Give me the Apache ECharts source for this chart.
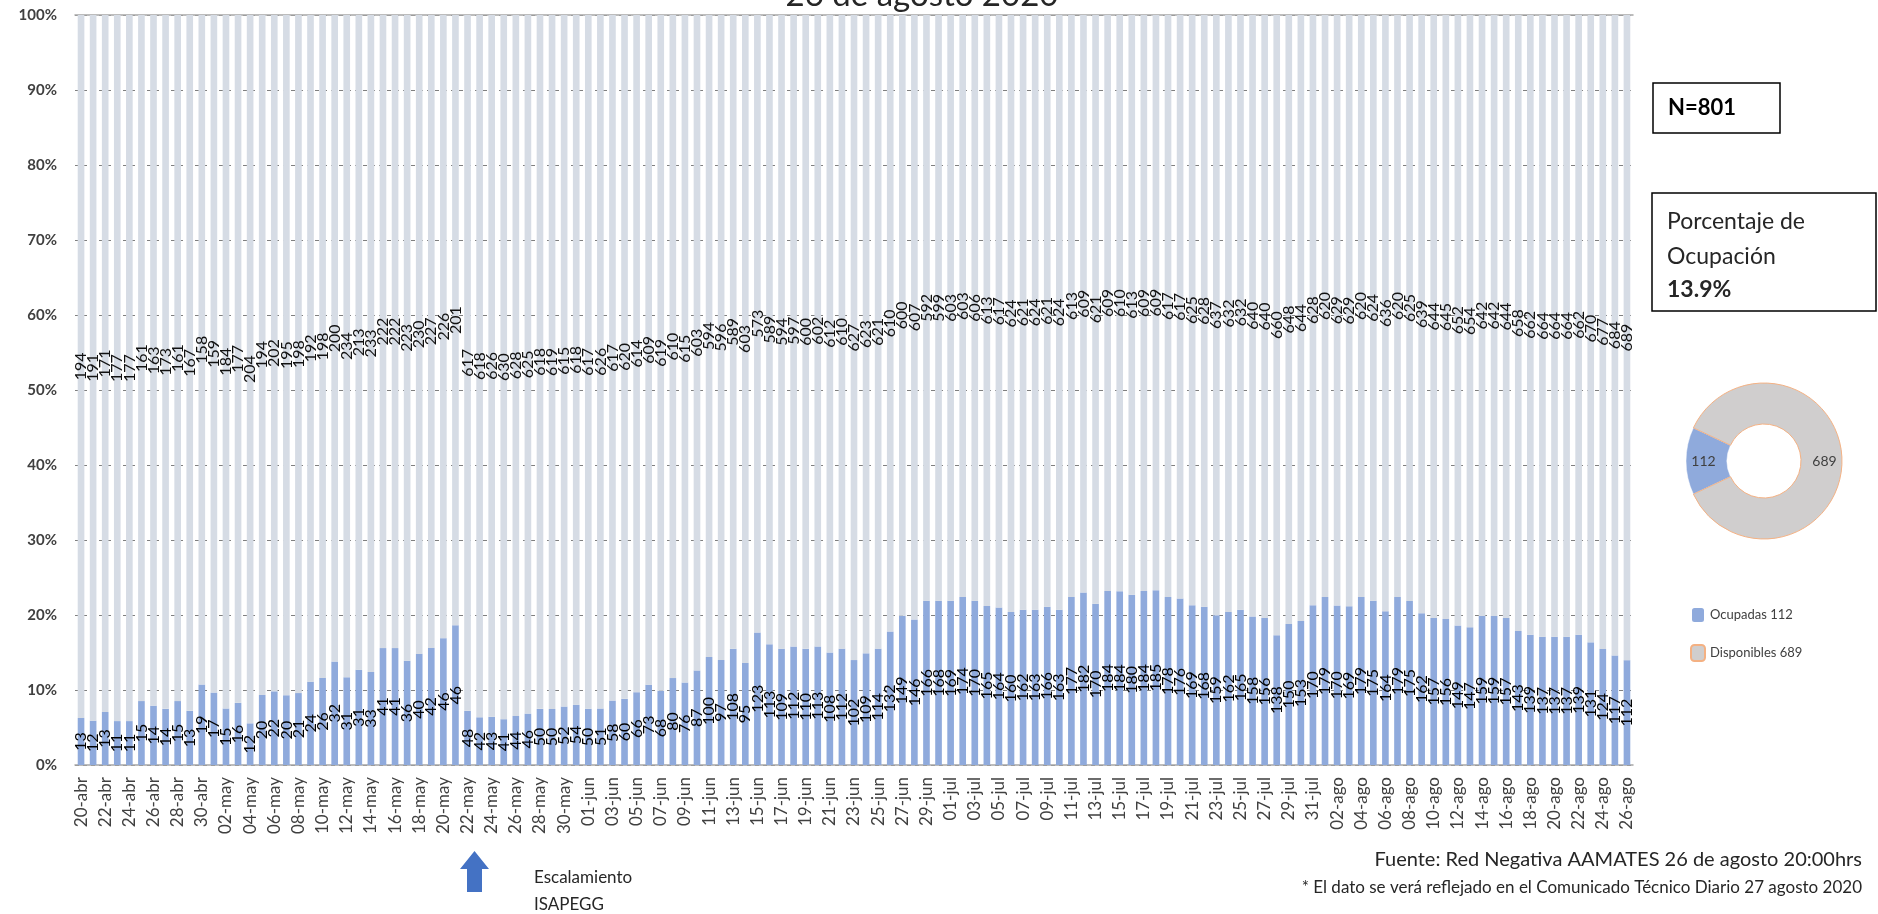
<!DOCTYPE html>
<html>
<head>
<meta charset="utf-8">
<script src="https://cdn.jsdelivr.net/npm/echarts@6/dist/echarts.min.js"></script>
<style>
  html, body { margin: 0; padding: 0; background: #ffffff; }
  #chart { width: 1878px; height: 914px; }
</style>
</head>
<body>
<div id="chart"></div>
<script>
// Daily dates of the occupancy series
const fechas = [
  '20-abr','21-abr','22-abr','23-abr','24-abr','25-abr','26-abr','27-abr','28-abr','29-abr','30-abr',
  '01-may','02-may','03-may','04-may','05-may','06-may','07-may','08-may','09-may','10-may',
  '11-may','12-may','13-may','14-may','15-may','16-may','17-may','18-may','19-may','20-may',
  '21-may','22-may','23-may','24-may','25-may','26-may','27-may','28-may','29-may','30-may','31-may',
  '01-jun','02-jun','03-jun','04-jun','05-jun','06-jun','07-jun','08-jun','09-jun','10-jun',
  '11-jun','12-jun','13-jun','14-jun','15-jun','16-jun','17-jun','18-jun','19-jun','20-jun',
  '21-jun','22-jun','23-jun','24-jun','25-jun','26-jun','27-jun','28-jun','29-jun','30-jun',
  '01-jul','02-jul','03-jul','04-jul','05-jul','06-jul','07-jul','08-jul','09-jul','10-jul',
  '11-jul','12-jul','13-jul','14-jul','15-jul','16-jul','17-jul','18-jul','19-jul','20-jul',
  '21-jul','22-jul','23-jul','24-jul','25-jul','26-jul','27-jul','28-jul','29-jul','30-jul','31-jul',
  '01-ago','02-ago','03-ago','04-ago','05-ago','06-ago','07-ago','08-ago','09-ago','10-ago',
  '11-ago','12-ago','13-ago','14-ago','15-ago','16-ago','17-ago','18-ago','19-ago','20-ago',
  '21-ago','22-ago','23-ago','24-ago','25-ago','26-ago'
];

// Occupied beds per day
const ocupadas = [
  13,12,13,11,11,15,14,14,15,13,19,17,15,16,12,20,22,20,21,24,26,32,31,31,33,41,41,36,40,42,46,46,
  48,42,43,41,44,46,50,50,52,54,
  50,51,58,60,66,73,68,80,76,87,
  100,97,108,95,123,113,109,112,110,113,
  108,112,102,109,114,132,149,146,166,168,
  169,174,170,165,164,160,162,163,166,163,
  177,182,170,184,184,180,184,185,178,176,
  169,168,159,162,165,158,156,138,150,153,
  170,179,170,169,179,175,164,179,175,162,
  157,156,149,147,159,159,157,143,139,137,
  137,137,139,131,124,117,112
];

// Available beds per day
const disponibles = [
  194,191,171,177,177,161,163,173,161,167,158,159,184,177,204,194,202,195,198,192,198,200,234,213,233,222,222,223,230,227,226,201,
  617,618,626,630,628,625,618,619,615,618,
  617,626,617,620,614,609,619,610,615,603,
  594,596,589,603,573,589,594,597,600,602,
  612,610,627,623,621,610,600,607,592,599,
  603,603,606,613,617,624,621,624,621,624,
  613,609,621,609,610,613,609,609,617,617,
  625,628,637,632,632,640,640,660,648,644,
  628,620,629,629,620,624,636,620,625,639,
  644,645,652,654,642,642,644,658,662,664,
  664,664,662,670,677,684,689
];

// Latest day totals shown in the side panel
const totalCamas = 801;
const ocupadasHoy = 112;
const disponiblesHoy = 689;
const porcentajeOcupacion = '13.9%';

const yTicks = [0, 10, 20, 30, 40, 50, 60, 70, 80, 90, 100];

// Share of each day's total, so every bar reaches 100%
const pctOcupadas = ocupadas.map((o, i) => o / (o + disponibles[i]) * 100);
const pctDisponibles = ocupadas.map((o, i) => disponibles[i] / (o + disponibles[i]) * 100);

const FONT = 'Lato, "Liberation Sans", sans-serif';
const AZUL = '#8faadc';
const GRIS_BARRA = '#d6dce5';

const chart = echarts.init(document.getElementById('chart'), null, { renderer: 'canvas' });

chart.setOption({
  animation: false,
  textStyle: { fontFamily: FONT },
  grid: { left: 75, top: 15, width: 1558, height: 750, containLabel: false },
  xAxis: [{
    type: 'category',
    data: fechas,
    axisLine: { show: true, lineStyle: { color: '#a6a6a6', width: 1.5 } },
    axisTick: { show: false },
    axisLabel: {
      interval: 1, rotate: 90, margin: 12,
      fontFamily: FONT, fontSize: 17, color: '#404040'
    },
    splitLine: { show: false }
  }, {
    type: 'category',
    data: fechas,
    position: 'top',
    axisLine: { show: true, lineStyle: { color: '#a6a6a6', width: 1.5 } },
    axisTick: { show: false },
    axisLabel: { show: false },
    splitLine: { show: false }
  }],
  yAxis: {
    type: 'value',
    min: 0, max: 100, interval: 10,
    axisLine: { show: false },
    axisTick: { show: false },
    axisLabel: {
      formatter: v => yTicks.includes(v) ? v + '%' : '',
      margin: 18, fontFamily: FONT, fontSize: 15, fontWeight: 'bold', color: '#404040'
    },
    splitLine: { show: true, lineStyle: { color: '#7f7f7f', type: [4, 4], width: 1 } }
  },
  legend: {
    orient: 'vertical',
    left: 1685, top: 601,
    itemWidth: 14, itemHeight: 16, itemGap: 20,
    data: ['Ocupadas', 'Disponibles'],
    formatter: name => name === 'Ocupadas' ? 'Ocupadas ' + ocupadasHoy : 'Disponibles ' + disponiblesHoy,
    textStyle: { fontFamily: FONT, fontSize: 13, color: '#404040' }
  },
  series: [
    {
      name: 'Ocupadas por día',
      type: 'bar',
      stack: 'camas',
      barCategoryGap: '45%',
      data: pctOcupadas,
      itemStyle: { color: AZUL },
      label: {
        show: true, position: 'inside', rotate: 90,
        formatter: p => ocupadas[p.dataIndex],
        fontFamily: FONT, fontSize: 16, color: '#000000',
        textBorderWidth: 0
      }
    },
    {
      name: 'Disponibles por día',
      type: 'bar',
      stack: 'camas',
      barCategoryGap: '45%',
      data: pctDisponibles,
      itemStyle: { color: GRIS_BARRA },
      label: {
        show: true, position: 'inside', rotate: 90,
        formatter: p => disponibles[p.dataIndex],
        fontFamily: FONT, fontSize: 16, color: '#111111',
        textBorderWidth: 0
      }
    },
    {
      name: 'Ocupación actual',
      type: 'pie',
      center: [1764, 461],
      radius: [37, 78],
      startAngle: 180 + ocupadasHoy / totalCamas * 180,
      clockwise: true,
      avoidLabelOverlap: false,
      label: {
        show: true, position: 'inside',
        formatter: p => p.value,
        fontFamily: FONT, fontSize: 14, color: '#404040'
      },
      labelLine: { show: false },
      data: [
        { name: 'Ocupadas', value: ocupadasHoy, itemStyle: { color: AZUL, borderColor: '#ffffff', borderWidth: 0.5 } },
        { name: 'Disponibles', value: disponiblesHoy, itemStyle: { color: '#d0cece', borderColor: '#f4b183', borderWidth: 1 } }
      ]
    }
  ],
  graphic: [
    {
      type: 'text', x: 922, y: 12,
      style: { text: '26 de agosto 2020', font: '33px ' + FONT, fill: '#262626', align: 'center', verticalAlign: 'bottom' }
    },
    {
      type: 'rect', shape: { x: 1653, y: 83, width: 127, height: 50 },
      style: { fill: '#ffffff', stroke: '#000000', lineWidth: 1.5 }
    },
    {
      type: 'text', x: 1668, y: 108,
      style: { text: 'N=' + totalCamas, font: 'bold 22px ' + FONT, fill: '#000000', verticalAlign: 'middle' }
    },
    {
      type: 'rect', shape: { x: 1652, y: 193, width: 224, height: 118 },
      style: { fill: '#ffffff', stroke: '#000000', lineWidth: 1.5 }
    },
    {
      type: 'text', x: 1667, y: 222,
      style: { text: 'Porcentaje de', font: '23px ' + FONT, fill: '#262626', verticalAlign: 'middle' }
    },
    {
      type: 'text', x: 1667, y: 257,
      style: { text: 'Ocupación', font: '23px ' + FONT, fill: '#262626', verticalAlign: 'middle' }
    },
    {
      type: 'text', x: 1667, y: 290,
      style: { text: porcentajeOcupacion, font: 'bold 23px ' + FONT, fill: '#262626', verticalAlign: 'middle' }
    },
    {
      type: 'polygon',
      shape: { points: [[460, 869], [474.5, 851], [489, 869], [482, 869], [482, 892], [467, 892], [467, 869]] },
      style: { fill: '#4472c4' }
    },
    {
      type: 'text', x: 534, y: 878,
      style: { text: 'Escalamiento', font: '17px ' + FONT, fill: '#262626', verticalAlign: 'middle' }
    },
    {
      type: 'text', x: 534, y: 905,
      style: { text: 'ISAPEGG', font: '17px ' + FONT, fill: '#262626', verticalAlign: 'middle' }
    },
    {
      type: 'text', x: 1862, y: 860,
      style: { text: 'Fuente: Red Negativa AAMATES 26 de agosto 20:00hrs', font: '20px ' + FONT, fill: '#262626', align: 'right', verticalAlign: 'middle' }
    },
    {
      type: 'text', x: 1862, y: 888,
      style: { text: '* El dato se verá reflejado en el Comunicado Técnico Diario 27 agosto 2020', font: '17px ' + FONT, fill: '#262626', align: 'right', verticalAlign: 'middle' }
    }
  ]
});
</script>
</body>
</html>
